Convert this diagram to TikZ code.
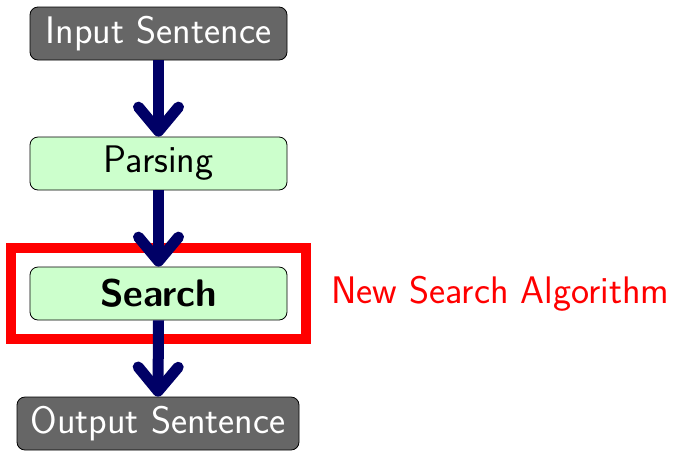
\documentclass[tikz,border=0pt]{standalone}
\usetikzlibrary{arrows.meta,positioning}
\definecolor{boxgray}{RGB}{102,102,102}
\definecolor{boxgreen}{RGB}{204,255,204}
\definecolor{arrownavy}{RGB}{0,0,102}
\begin{document}
\begin{tikzpicture}[x=1pt,y=-1pt,
  flowbox/.style={draw=black, line width=0.8pt, rounded corners=8pt, minimum height=53pt,
    font=\sffamily\fontsize{38.4}{42}\selectfont, inner sep=0pt, anchor=center},
  endbox/.style={flowbox, fill=boxgray, text=white},
  procbox/.style={flowbox, fill=boxgreen, text=black},
  flowarrow/.style={draw=arrownavy, line width=11pt,
    -{Straight Barb[length=24pt,width=40pt,round]}},
  highlight/.style={draw=red, line width=10pt}
]
\useasboundingbox (0,0) rectangle (674,451);
\node[endbox, minimum width=257pt] (input) at (158.5,33.5) {Input Sentence};
\node[procbox, minimum width=257pt] (parse) at (158.5,163.5) {Parsing};
\node[procbox, minimum width=257pt] (search) at (158.5,293.5) {\bfseries Search};
\node[endbox, minimum width=282pt] (output) at (158,423.5) {Output Sentence};
\node[draw=none, fill=none, inner sep=0pt, outer sep=0pt, minimum width=295pt, minimum height=91pt] (frame) at (158.5,293.5) {};
\draw[highlight] (frame.north west) rectangle (frame.south east);
\node[anchor=west, inner sep=0pt, text=red, font=\sffamily\fontsize{38.4}{42}\selectfont] (note) at (331,293.5) {New Search Algorithm};
\draw[flowarrow] (input.south) -- (parse.north);
\draw[flowarrow] (parse.south) -- (search.north);
\draw[flowarrow] (search.south) -- (output.north);
\end{tikzpicture}
\end{document}
